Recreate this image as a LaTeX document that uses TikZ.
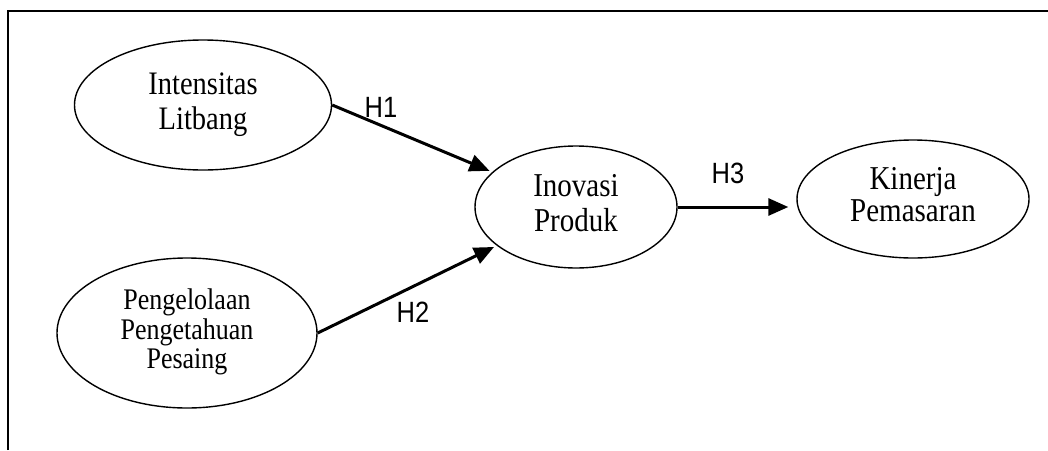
\documentclass[tikz,border=0pt]{standalone}
\usepackage{graphicx}
\usepackage{fontspec}
\setmainfont{Liberation Serif}
\newfontfamily\labelfont{Liberation Sans}
\usetikzlibrary{shapes.geometric,arrows.meta}
\newcommand{\tallbox}[3]{\scalebox{1}[1.15]{\fontsize{#1}{#2}\selectfont\begin{tabular}{@{}c@{}}#3\end{tabular}}}
\tikzset{
  construct/.style={ellipse, draw, line width=1.4pt, inner sep=0pt},
  hyp/.style={line width=3pt, -{Triangle[length=20pt,width=17pt]}},
  hlabel/.style={inner sep=0pt},
  frame/.style={line width=2pt}
}
\begin{document}
\begin{tikzpicture}[x=1pt,y=-1pt]
\useasboundingbox (0,0) rectangle (1048,450);
\coordinate (fa) at (8,450);
\coordinate (fb) at (8,11);
\coordinate (fc) at (1048,11);
\draw[frame] (fa) -- (fb) -- (fc);

\node[construct, minimum width=257pt, minimum height=130pt] (int) at (203,105) {\tallbox{28.5}{30.4}{Intensitas\\Litbang}};
\node[construct, minimum width=260pt, minimum height=150pt] (peng) at (187,333) {\tallbox{26}{25.2}{Pengelolaan\\Pengetahuan\\Pesaing}};
\node[construct, minimum width=202pt, minimum height=122pt] (inov) at (576,207) {\tallbox{29}{30.4}{Inovasi\\Produk}};
\node[construct, minimum width=232pt, minimum height=118pt] (kin) at (913,199) {\tallbox{29}{28.5}{Kinerja\\Pemasaran}};

\draw[hyp, shorten >=3pt] (int.east) -- (inov);
\draw[hyp, shorten >=3pt] (peng.east) -- (inov);
\draw[hyp, shorten >=8pt] (inov.east) -- (inov.east -| kin.west);

\node[hlabel] (h1) at (381,107) {\scalebox{1}[1.15]{\labelfont\fontsize{25.5}{30}\selectfont H1}};
\node[hlabel] (h2) at (413,312) {\scalebox{1}[1.15]{\labelfont\fontsize{25.5}{30}\selectfont H2}};
\node[hlabel] (h3) at (728,173) {\scalebox{1}[1.15]{\labelfont\fontsize{25.5}{30}\selectfont H3}};
\end{tikzpicture}
\end{document}
